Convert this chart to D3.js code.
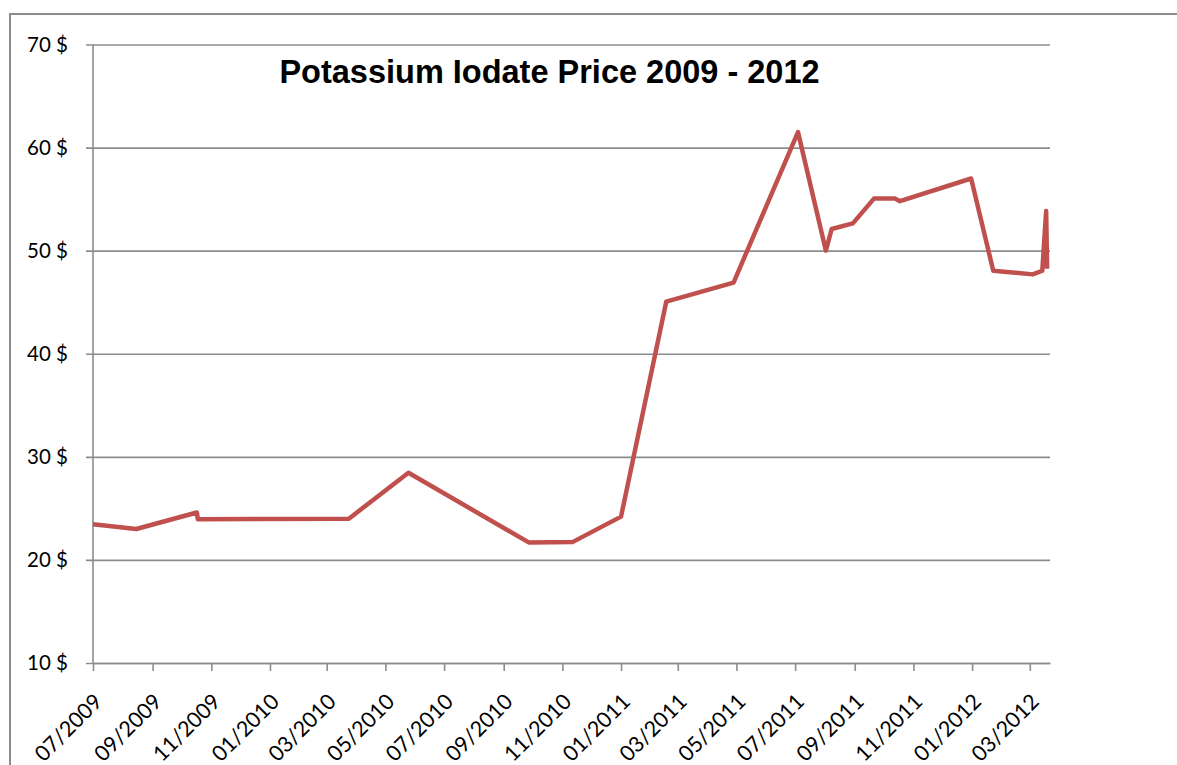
<!DOCTYPE html>
<html>
<head>
<meta charset="utf-8">
<script src="https://cdn.jsdelivr.net/npm/d3@7"></script>
<style>
  body { margin: 0; background: #fff; }
  .tick text { font-family: Lato, "Open Sans", sans-serif; fill: #000; }
</style>
</head>
<body>
<div id="wrapper"></div>
<script>
// price readings (date, USD)
const priceDates = [
  '2009-07-01', '2009-08-15', '2009-10-17', '2009-10-18', '2010-03-24',
  '2010-05-25', '2010-09-27', '2010-11-12', '2011-01-01', '2011-02-17',
  '2011-04-28', '2011-07-04', '2011-08-02', '2011-08-08', '2011-08-30',
  '2011-09-21', '2011-10-13', '2011-10-18', '2011-12-31', '2012-01-23',
  '2012-03-04', '2012-03-14', '2012-03-18', '2012-03-19'
];
const prices = [
  23.45, 23.0, 24.6, 23.95, 24.0,
  28.45, 21.7, 21.75, 24.2, 45.05,
  46.9, 61.5, 50.0, 52.1, 52.65,
  55.05, 55.05, 54.8, 57.0, 48.05,
  47.7, 48.05, 53.85, 48.25
];
const xTickLabels = [
  '07/2009', '09/2009', '11/2009', '01/2010', '03/2010', '05/2010', '07/2010',
  '09/2010', '11/2010', '01/2011', '03/2011', '05/2011', '07/2011', '09/2011',
  '11/2011', '01/2012', '03/2012'
];
const yTicks = [10, 20, 30, 40, 50, 60, 70];
const xDomain = ['2009-07-01', '2012-03-22'];
const title = 'Potassium Iodate Price 2009 - 2012';

const dayParser = d3.timeParse('%Y-%m-%d');
const monthParser = d3.timeParse('%m/%Y');
const dataset = priceDates.map((d, i) => ({ datum: dayParser(d), preis: prices[i] }));

const xAccessor = d => d.datum;
const yAccessor = d => d.preis;

let dimensions = {
  width: 1177,
  height: 765,
  margin: { top: 44.5, right: 127, bottom: 102, left: 93 }
};
dimensions.boundW = dimensions.width - dimensions.margin.left - dimensions.margin.right;
dimensions.boundH = dimensions.height - dimensions.margin.top - dimensions.margin.bottom;

const svg = d3.select('#wrapper').append('svg')
  .attr('width', dimensions.width)
  .attr('height', dimensions.height);

// outer chart frame (cropped at right and bottom)
svg.append('rect')
  .attr('x', 10)
  .attr('y', 14)
  .attr('width', 1200)
  .attr('height', 800)
  .attr('fill', 'none')
  .attr('stroke', '#8c8c8c')
  .attr('stroke-width', 2);

const bounds = svg.append('g')
  .attr('transform', `translate(${dimensions.margin.left},${dimensions.margin.top})`);

const xScale = d3.scaleTime()
  .domain(xDomain.map(dayParser))
  .range([0, dimensions.boundW]);

const yScale = d3.scaleLinear()
  .domain([10, 70])
  .range([dimensions.boundH, 0]);

// y axis + grid
const yAxisGenerator = d3.axisLeft(yScale)
  .tickValues(yTicks)
  .tickFormat(d => d + ' $')
  .tickSizeInner(-dimensions.boundW)
  .tickSizeOuter(0);

const yAxis = bounds.append('g').call(yAxisGenerator);
yAxis.select('.domain').remove();
yAxis.selectAll('.tick line')
  .attr('x1', -7)
  .attr('stroke', '#8c8c8c')
  .attr('stroke-width', 1.6);
yAxis.selectAll('.tick text')
  .attr('x', -25)
  .attr('font-size', 20.5);

// vertical axis line
bounds.append('line')
  .attr('x1', 0).attr('x2', 0)
  .attr('y1', 0).attr('y2', dimensions.boundH)
  .attr('stroke', '#8c8c8c')
  .attr('stroke-width', 1.6);

// x axis
const xAxisGenerator = d3.axisBottom(xScale)
  .tickValues(xTickLabels.map(monthParser))
  .tickFormat(d3.timeFormat('%m/%Y'))
  .tickSizeInner(8)
  .tickSizeOuter(0);

const xAxis = bounds.append('g')
  .attr('transform', `translate(0,${dimensions.boundH})`)
  .call(xAxisGenerator);
xAxis.select('.domain')
  .attr('stroke', '#8c8c8c')
  .attr('stroke-width', 1.6);
xAxis.selectAll('.tick line')
  .attr('stroke', '#8c8c8c')
  .attr('stroke-width', 1.6);
xAxis.selectAll('.tick text')
  .attr('font-size', 21.5)
  .attr('text-anchor', 'end')
  .attr('y', 0)
  .attr('dy', 0)
  .attr('transform', 'translate(10,40) rotate(-45)');

// price line
const lineGenerator = d3.line()
  .x(d => xScale(xAccessor(d)))
  .y(d => yScale(yAccessor(d)));

bounds.append('path')
  .attr('d', lineGenerator(dataset))
  .attr('fill', 'none')
  .attr('stroke', '#c0504d')
  .attr('stroke-width', 4.5)
  .attr('stroke-linejoin', 'round');

// title
svg.append('text')
  .attr('x', 549.5)
  .attr('y', 83)
  .attr('text-anchor', 'middle')
  .attr('font-family', '"Liberation Sans", Arial, sans-serif')
  .attr('font-weight', 'bold')
  .attr('font-size', 32.5)
  .text(title);
</script>
</body>
</html>
